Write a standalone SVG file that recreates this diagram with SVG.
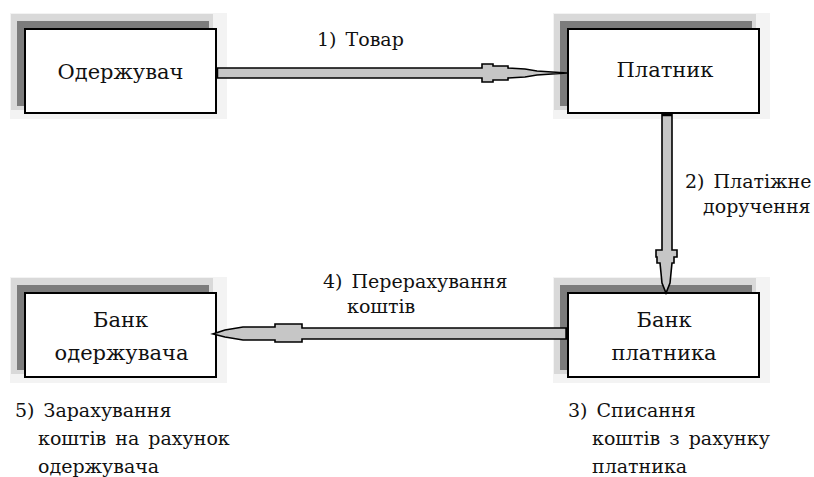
<svg xmlns="http://www.w3.org/2000/svg" width="814" height="477" viewBox="0 0 814 477">
<style>
.halo{fill:#f3f3f3}
.halo2{fill:#d9d9d9}
.sh{fill:#7c7c7c}
.box{fill:#fff;stroke:#000;stroke-width:2}
.t{font-family:"DejaVu Serif","Liberation Serif",serif;font-size:19px;fill:#111;word-spacing:3px}
.b{font-family:"DejaVu Serif","Liberation Serif",serif;font-size:21px;fill:#111}
.arr{fill:#c6c6c6;stroke:#000;stroke-width:1.6;stroke-linejoin:miter}
</style>
<rect width="814" height="477" fill="#fff"/>
<g id="n1">
<rect class="halo" x="10" y="13" width="217" height="106"/>
<rect class="halo2" x="11" y="14" width="202" height="96"/>
<rect class="sh" x="17" y="21" width="192" height="85"/>
<rect class="box" x="25" y="29" width="191" height="84"/>
<text class="b" x="120.5" y="79" text-anchor="middle">Одержувач</text>
</g>
<g id="n2">
<rect class="halo" x="553" y="13" width="217" height="106"/>
<rect class="halo2" x="554" y="14" width="202" height="96"/>
<rect class="sh" x="560" y="21" width="192" height="85"/>
<rect class="box" x="568" y="29" width="191" height="84"/>
<text class="b" x="665" y="77" text-anchor="middle">Платник</text>
</g>
<g id="n3">
<rect class="halo" x="553" y="277" width="217" height="106"/>
<rect class="halo2" x="554" y="278" width="202" height="96"/>
<rect class="sh" x="560" y="285" width="192" height="85"/>
<rect class="box" x="568" y="293" width="191" height="84"/>
<text class="b" x="664" y="327" text-anchor="middle">Банк</text>
<text class="b" x="664" y="360" text-anchor="middle">платника</text>
</g>
<g id="n4">
<rect class="halo" x="10" y="277" width="217" height="106"/>
<rect class="halo2" x="11" y="278" width="202" height="96"/>
<rect class="sh" x="17" y="285" width="192" height="85"/>
<rect class="box" x="25" y="293" width="191" height="84"/>
<text class="b" x="120.5" y="327" text-anchor="middle">Банк</text>
<text class="b" x="121.5" y="360" text-anchor="middle">одержувача</text>
</g>
<g id="connectors">
<polygon class="arr" points="216,68 482,68 482,64 493,64 493,66 508,66 508,68 525,69 537,71 567,73 537,75 525,77 508,78 508,80 493,80 493,82 482,82 482,78 216,78"/>
<line x1="217" y1="68" x2="217" y2="78" stroke="#000" stroke-width="2.5"/>
<polygon class="arr" points="662,114 672,114 672,250 677,250 677,257 674,257 674,263 672,263 671,273 670,283 666,293 662,283 661,273 660,263 657,263 657,257 656,257 656,250 662,250"/>
<line x1="662" y1="115" x2="672" y2="115" stroke="#000" stroke-width="2.5"/>
<polygon class="arr" points="567,328 302,328 302,324 275,324 275,327 243,327 225,330 213,334 225,337 243,340 275,340 275,342 302,342 302,339 567,339"/>
<line x1="566.5" y1="328" x2="566.5" y2="339" stroke="#000" stroke-width="2.5"/>
</g>
<g id="labels">
<text class="t" x="317" y="46">1) Товар</text>
<text class="t" x="685" y="188">2) Платіжне</text>
<text class="t" x="703" y="213">доручення</text>
<text class="t" x="323" y="288">4) Перерахування</text>
<text class="t" x="347" y="313">коштів</text>
<text class="t" x="15" y="417">5) Зарахування</text>
<text class="t" x="38" y="445">коштів на рахунок</text>
<text class="t" x="38" y="473">одержувача</text>
<text class="t" x="568" y="417">3) Списання</text>
<text class="t" x="592" y="445">коштів з рахунку</text>
<text class="t" x="592" y="473">платника</text>
</g>
</svg>
